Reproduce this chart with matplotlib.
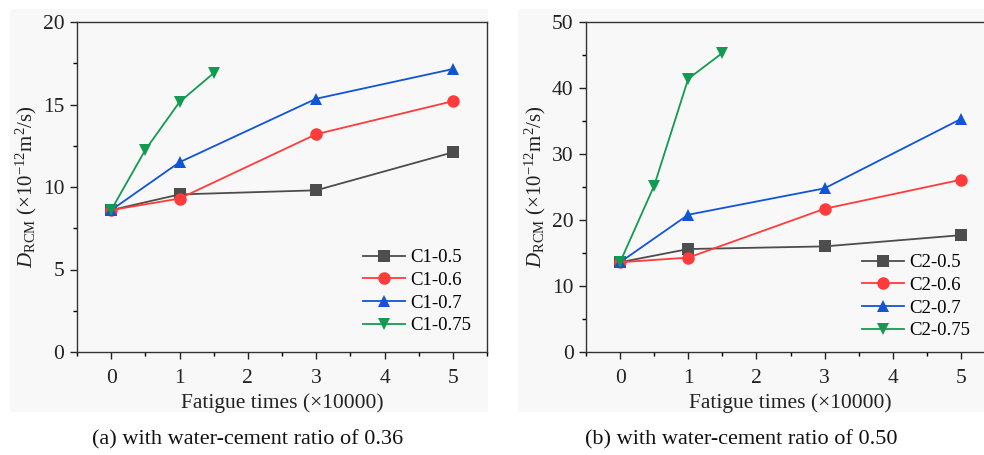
import matplotlib
matplotlib.use("Agg")
import matplotlib.pyplot as plt
from matplotlib.patches import Rectangle
from matplotlib.ticker import MultipleLocator

plt.rcParams['font.family'] = ['Liberation Serif', 'DejaVu Serif']
plt.rcParams['mathtext.fontset'] = 'custom'
plt.rcParams['mathtext.rm'] = 'Liberation Serif'
plt.rcParams['mathtext.it'] = 'Liberation Serif:italic'

# ---- data ----
x_main = [0, 1, 3, 5]
x_fast = [0, 0.5, 1, 1.5]

labels_a = ["C1-0.5", "C1-0.6", "C1-0.7", "C1-0.75"]
c1_05 = [8.6, 9.55, 9.8, 12.1]
c1_06 = [8.6, 9.3, 13.2, 15.2]
c1_07 = [8.6, 11.5, 15.35, 17.15]
c1_075 = [8.6, 12.25, 15.15, 16.9]

labels_b = ["C2-0.5", "C2-0.6", "C2-0.7", "C2-0.75"]
c2_05 = [13.6, 15.6, 16.0, 17.7]
c2_06 = [13.6, 14.3, 21.7, 26.1]
c2_07 = [13.6, 20.8, 24.8, 35.3]
c2_075 = [13.6, 25.2, 41.4, 45.3]

captions = ["(a) with water-cement ratio of 0.36", "(b) with water-cement ratio of 0.50"]
xticks = [0, 1, 2, 3, 4, 5]

colors = ["#4d4d4d", "#ff3b3b", "#1155d4", "#139a52"]
markers = ["s", "o", "^", "v"]

W, H = 984, 455
fig = plt.figure(figsize=(W / 100, H / 100), dpi=100)

# panel backgrounds
for (x0, x1) in [(10, 488), (518, 984)]:
    fig.patches.append(Rectangle((x0 / W, 1 - 412 / H), (x1 - x0) / W, (412 - 9) / H,
                                 transform=fig.transFigure, facecolor="#f8f8f8",
                                 edgecolor="none", zorder=-10))

def make_ax(left_px, right_px, ymax, ymajor, yminor, series, labels, caption, cap_x, leg_x, leg_top):
    ax = fig.add_axes([left_px / W, 1 - 352 / H, (right_px - left_px) / W, (352 - 22) / H])
    ax.set_facecolor("none")
    xs = [x_main, x_main, x_main, x_fast]
    for xv, yv, c, m, lab in zip(xs, series, colors, markers, labels):
        ax.plot(xv, yv, color=c, marker=m, markersize=9, linewidth=1.3, label=lab,
                markeredgewidth=0)
    ax.set_xlim(-0.5, 5.5)
    ax.set_ylim(0, ymax)
    ax.set_xticks(xticks)
    ax.xaxis.set_minor_locator(MultipleLocator(0.5))
    ax.yaxis.set_major_locator(MultipleLocator(ymajor))
    ax.yaxis.set_minor_locator(MultipleLocator(yminor))
    ax.tick_params(which='major', direction='out', length=5, width=1, labelsize=15.5,
                   colors='#222222', pad=4)
    ax.tick_params(axis='x', which='major', pad=7)
    ax.tick_params(which='minor', direction='out', length=3, width=1)
    for s in ax.spines.values():
        s.set_color('#333333')
        s.set_linewidth(1.0)
    ax.set_xlabel("Fatigue times (×10000)", fontsize=15.5, labelpad=4, color='#222222')
    ax.set_ylabel(r"$D_{\mathrm{RCM}}$ (×10$^{-12}$m$^2$/s)", fontsize=15, labelpad=3, color='#222222')
    ax.legend(loc='upper left', frameon=False, fontsize=13.5, handlelength=2.25,
              handletextpad=0.25, labelspacing=0.3, borderaxespad=0, borderpad=0,
              bbox_to_anchor=(leg_x / W, 1 - leg_top / H), bbox_transform=fig.transFigure)
    fig.text(cap_x / W, 1 - 440 / H, caption, ha='center', va='center', fontsize=16, color='#111111')
    return ax

make_ax(77, 487, 20, 5, 2.5, [c1_05, c1_06, c1_07, c1_075], labels_a, captions[0], 248, 363, 249)
make_ax(586, 995, 50, 10, 5, [c2_05, c2_06, c2_07, c2_075], labels_b, captions[1], 741, 862, 254)

fig.savefig("out.png", dpi=100)
